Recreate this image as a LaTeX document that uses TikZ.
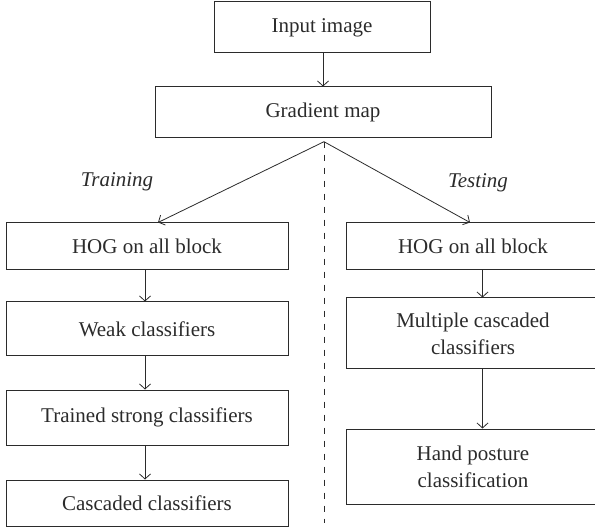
\documentclass[tikz,border=0pt]{standalone}
\usepackage{fontspec}
\setmainfont{Liberation Serif}
\usetikzlibrary{arrows.meta}
\definecolor{ink}{HTML}{2B2B2B}
\begin{document}
\begin{tikzpicture}[x=1pt,y=1pt,
  box/.style={draw=ink,line width=1pt,inner sep=0pt,text=ink,align=center,
    font=\fontsize{21}{27}\selectfont},
  lbox/.style={box,minimum width=282pt},
  rbox/.style={box,minimum width=254pt},
  conn/.style={draw=ink,line width=0.8pt,-{Straight Barb[length=5pt,width=11pt]}},
  lbl/.style={text=ink,font=\fontsize{21}{25}\selectfont\itshape,inner sep=0pt}]
\clip (0,0) rectangle (595,531);
\useasboundingbox (0,0) rectangle (595,531);
\node[box,minimum width=216pt,minimum height=51pt] (input) at (322,503.5) {Input image};
\node[box,minimum width=336pt,minimum height=51pt] (grad) at (323,418.5) {Gradient map};
\node[lbox,minimum height=47pt] (hogL) at (147,284.5) {HOG on all block};
\node[lbox,minimum height=54pt] (weak) at (147,202) {Weak classifiers};
\node[lbox,minimum height=55pt] (trained) at (147,113.5) {Trained strong classifiers};
\node[lbox,minimum height=46pt] (casc) at (147,28) {Cascaded classifiers};
\node[rbox,minimum height=47pt] (hogR) at (473,284.5) {HOG on all block};
\node[rbox,minimum height=71pt] (multi) at (473,197.5) {Multiple cascaded\\classifiers};
\node[rbox,minimum height=75pt] (hand) at (473,64.5) {Hand posture\\classification};
\node[lbl] (train) at (117,349) {Training};
\node[lbl] (test) at (478,348) {Testing};
\coordinate (apex) at (324,389.3);
\coordinate (dend) at (324,8);
\coordinate (lx) at (145,0);
\coordinate (rx) at (482.5,0);
\coordinate (la) at (158,0);
\coordinate (ra) at (470,0);
\draw[conn] (input.south -| grad.north) -- (grad.north);
\draw[conn] (apex) -- (hogL.north -| la);
\draw[conn] (apex) -- (hogR.north -| ra);
\draw[draw=ink,line width=0.8pt,dash pattern=on 6.5pt off 6.5pt] (apex) -- (dend);
\draw[conn] (hogL.south -| lx) -- (weak.north -| lx);
\draw[conn] (weak.south -| lx) -- (trained.north -| lx);
\draw[conn] (trained.south -| lx) -- (casc.north -| lx);
\draw[conn] (hogR.south -| rx) -- (multi.north -| rx);
\draw[conn] (multi.south -| rx) -- (hand.north -| rx);
\end{tikzpicture}
\end{document}
